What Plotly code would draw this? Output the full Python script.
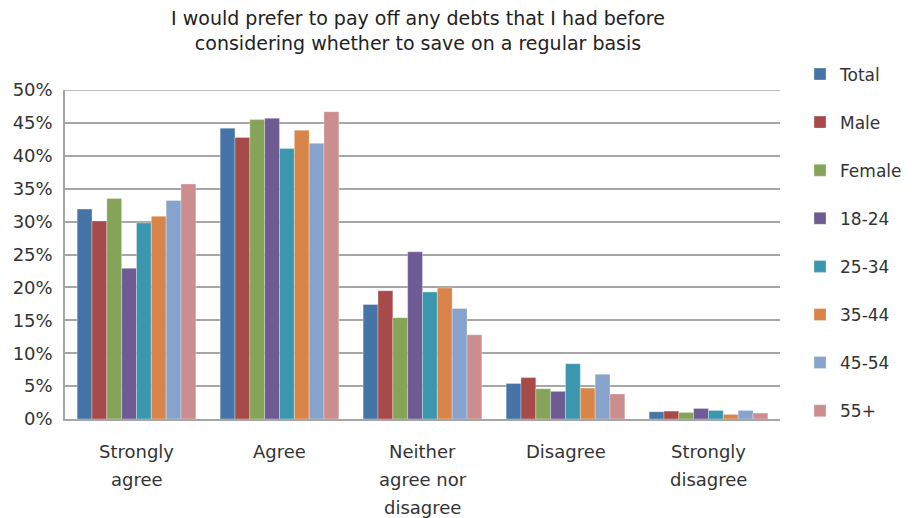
import plotly.graph_objects as go

categories = ["Strongly<br>agree", "Agree", "Neither<br>agree nor<br>disagree", "Disagree", "Strongly<br>disagree"]
series_names = ["Total", "Male", "Female", "18-24", "25-34", "35-44", "45-54", "55+"]
total = [31.9, 44.2, 17.4, 5.4, 1.1]
male = [30.1, 42.8, 19.5, 6.3, 1.2]
female = [33.5, 45.5, 15.4, 4.6, 1.0]
age_18_24 = [22.9, 45.7, 25.4, 4.2, 1.6]
age_25_34 = [29.8, 41.1, 19.3, 8.4, 1.3]
age_35_44 = [30.8, 43.9, 19.9, 4.7, 0.7]
age_45_54 = [33.2, 41.9, 16.8, 6.8, 1.3]
age_55_plus = [35.7, 46.7, 12.8, 3.8, 0.9]
series_values = [total, male, female, age_18_24, age_25_34, age_35_44, age_45_54, age_55_plus]
colors = ["#4674A6", "#A64B49", "#86A459", "#6F5B93", "#3B97AE", "#D9854A", "#87A3CB", "#CB8D8E"]
tick_vals = [0, 5, 10, 15, 20, 25, 30, 35, 40, 45, 50]
tick_text = [f"{v}%" for v in tick_vals]

font_family = "'DejaVu Sans', sans-serif"
grid = "#A6A6A6"
fig = go.Figure()
for name, vals, c in zip(series_names, series_values, colors):
    fig.add_trace(go.Bar(
        name=name, x=categories, y=vals, marker_color=c,
        marker_line=dict(color="rgba(255,255,255,0.5)", width=0.6),
        legendgroup=name,
        hovertemplate="%{y:.1f}%<extra>" + name + "</extra>",
    ))

# category labels with wider line spacing
for cat in categories:
    for i, line in enumerate(cat.split("<br>")):
        fig.add_annotation(
            x=cat, xref="x", y=0, yref="paper", text=line, showarrow=False,
            yanchor="middle", xanchor="center", yshift=-(32 + 28 * i),
            font=dict(size=18, color="#333333"),
        )

fig.update_layout(
    width=912, height=510,
    barmode="group", bargap=0.17, bargroupgap=0,
    paper_bgcolor="white", plot_bgcolor="white",
    font=dict(family=font_family, size=18, color="#333333"),
    title=dict(
        text="I would prefer to pay off any debts that I had before<br>considering whether to save on a regular basis",
        x=0.4496, xanchor="center", y=0.966, yanchor="top",
        font=dict(size=19, color="#222222"),
    ),
    margin=dict(l=57, r=140, t=82, b=99, autoexpand=False),
    legend=dict(
        x=1.028, xanchor="left", y=1.102, yanchor="top",
        font=dict(size=17, color="#333333"),
        tracegroupgap=23, itemwidth=30, maxheight=480,
        bgcolor="rgba(0,0,0,0)",
    ),
    xaxis=dict(
        showline=True, linecolor=grid, linewidth=1.5,
        ticks="", showticklabels=False, automargin=False,
    ),
    yaxis=dict(
        range=[0, 50], tickvals=tick_vals, ticktext=tick_text,
        showgrid=True, gridcolor=grid, gridwidth=1.5,
        showline=True, linecolor=grid, linewidth=1.5,
        ticks="", zeroline=False, tickfont=dict(size=18),
        ticklabelstandoff=7, automargin=False,
    ),
    showlegend=True,
)
fig.add_shape(type="line", xref="paper", yref="y", x0=0, x1=1, y0=50, y1=50,
              line=dict(color=grid, width=1.5))

fig.write_html("out.html")
